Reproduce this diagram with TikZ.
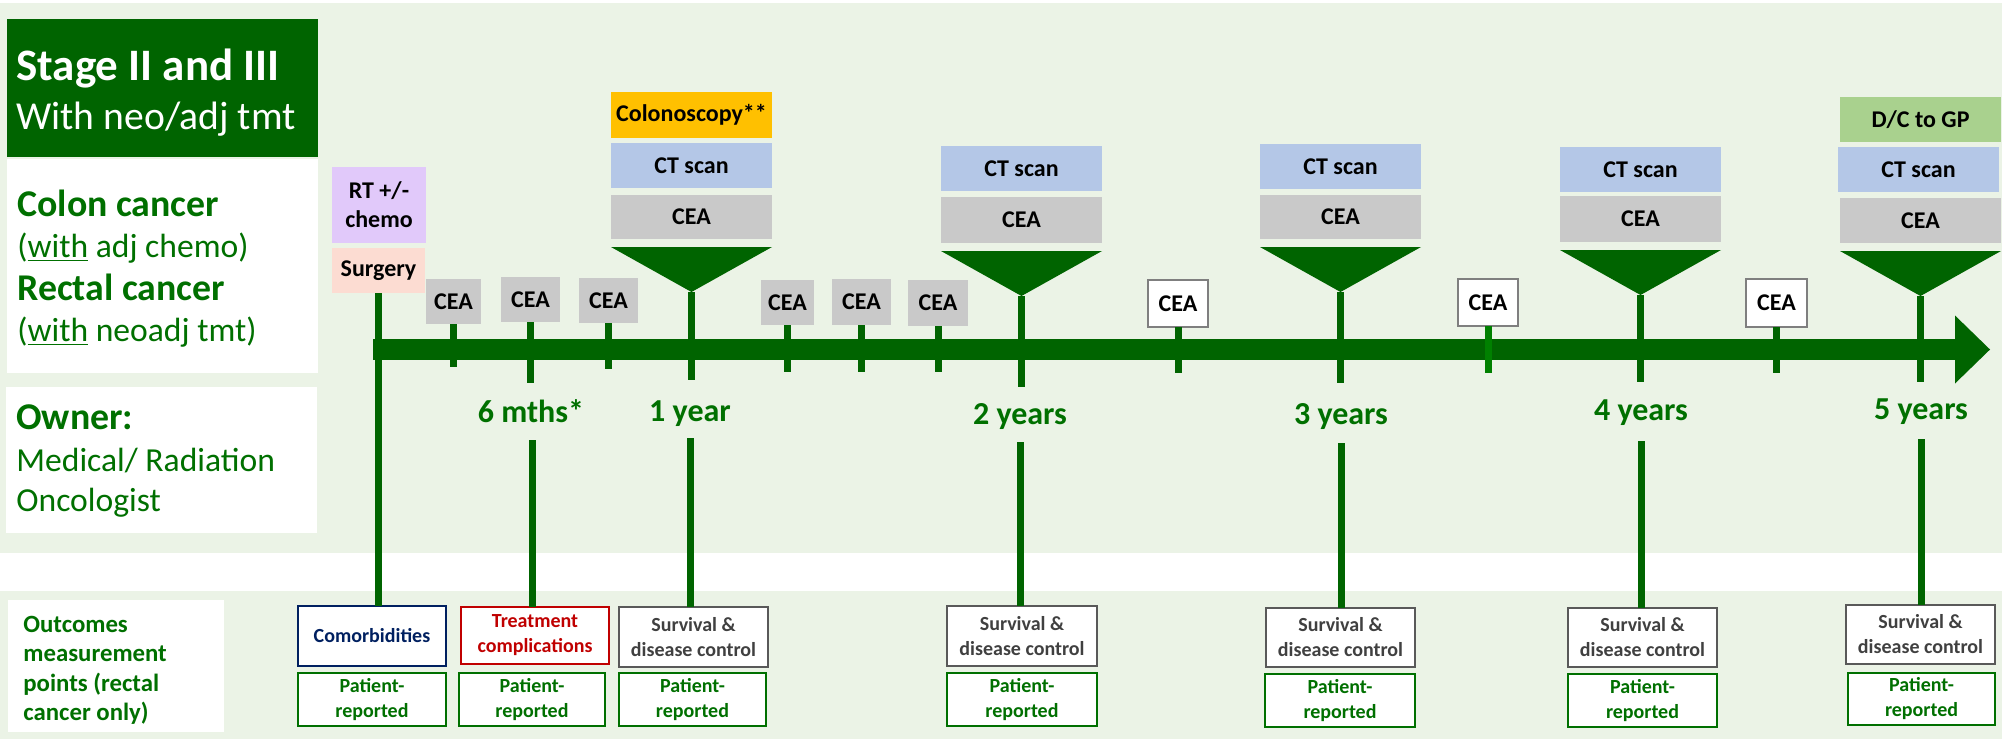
\documentclass[tikz,border=0pt]{standalone}
\usepackage{fontspec}
\setmainfont{Carlito}
\usetikzlibrary{arrows.meta}
\definecolor{bg}{HTML}{EBF3E6}
\definecolor{dkg}{HTML}{006400}
\definecolor{tg}{HTML}{007000}
\definecolor{lav}{HTML}{E1C9FA}
\definecolor{salmon}{HTML}{FCDCD2}
\definecolor{colo}{HTML}{FFC000}
\definecolor{ctb}{HTML}{B4C7E7}
\definecolor{ceag}{HTML}{C9C9C9}
\definecolor{dcg}{HTML}{A9D18E}
\definecolor{navy}{HTML}{002060}
\definecolor{dred}{HTML}{C00000}
\definecolor{sgray}{HTML}{595959}
\definecolor{stext}{HTML}{404040}
\definecolor{ogray}{HTML}{7F7F7F}
\newcommand\fsz[2]{\fontsize{#1}{#2}\selectfont}
\newcommand\mkbox[7]{\node[#6, minimum width={((#4)-(#2))*0.5pt}, minimum height={((#5)-(#3))*0.5pt}] (#1) at ({((#2)+(#4))/2},{((#3)+(#5))/2}) {#7};}
\tikzset{
  base/.style={inner sep=0pt, outer sep=0pt, align=center},
  fillbox/.style={base, fill=#1, font=\fsz{12}{14.5}\bfseries},
  obox/.style={base, fill=white, draw=ogray, line width=1pt, font=\fsz{12}{14.5}\bfseries},
  botbox/.style={base, fill=white, draw=#1, text=#1, line width=1pt, font=\fsz{10}{12.5}\bfseries},
  survbox/.style={base, fill=white, draw=sgray, text=stext, line width=1pt, font=\fsz{10}{12.5}\bfseries},
  tick/.style={draw=dkg, line width=3.5pt},
  yearlab/.style={text=tg, font=\fsz{16}{19}\bfseries, anchor=base, inner sep=0pt},
  lefttxt/.style={anchor=base west, inner sep=0pt, text=tg},
  headtxt/.style={lefttxt, font=\fsz{18.9}{22}\bfseries},
  subtxt/.style={lefttxt, font=\fsz{16.8}{20}}
}
\begin{document}
\begin{tikzpicture}[x=0.5pt,y=-0.5pt]
\useasboundingbox (0,0) rectangle (2011,739);
% backgrounds
\fill[bg] (0,3) rectangle (2002,553);
\fill[bg] (0,591) rectangle (2002,739);
% left panel
\mkbox{title}{7}{19}{318}{157}{base, fill=dkg}{}
\mkbox{wb1}{7}{159}{318}{373}{base, fill=white}{}
\mkbox{wb2}{6}{387}{317}{533}{base, fill=white}{}
\mkbox{wb3}{8}{600}{224}{732}{base, fill=white}{}
\node[lefttxt, text=white, font=\fsz{22.5}{27}\bfseries] (stg) at (16,80) {Stage II and III};
\node[lefttxt, text=white, font=\fsz{19.8}{23}] (neo) at (16,129) {With neo/adj tmt};
\node[headtxt] (colon) at (17,216) {Colon cancer};
\node[subtxt] (colsub) at (17,257) {(\underline{with} adj chemo)};
\node[headtxt] (rectal) at (17,300) {Rectal cancer};
\node[subtxt] (recsub) at (17,341) {(\underline{with} neoadj tmt)};
\node[headtxt] (owner) at (16,429) {Owner:};
\node[subtxt] (med) at (16,471) {Medical/ Radiation};
\node[subtxt] (onc) at (16,511) {Oncologist};
\node[lefttxt, font=\fsz{12.4}{15}\bfseries] (oc1) at (23,632) {Outcomes};
\node[lefttxt, font=\fsz{12.4}{15}\bfseries] (oc2) at (23,661) {measurement};
\node[lefttxt, font=\fsz{12.4}{15}\bfseries] (oc3) at (23,691) {points (rectal};
\node[lefttxt, font=\fsz{12.4}{15}\bfseries] (oc4) at (23,720) {cancer only)};
% treatment boxes
\mkbox{rt}{332}{167}{426}{243}{fillbox=lav}{RT +/-\\chemo}
\mkbox{surg}{332}{248}{425}{293}{fillbox=salmon}{Surgery}
% bottom boxes
\mkbox{comorb}{298}{606}{446}{666}{botbox=navy}{Comorbidities}
\mkbox{pr0}{298}{673}{446}{726}{botbox=tg}{Patient-\\reported}
\mkbox{treat}{461}{607}{609}{664}{botbox=dred}{Treatment\\complications}
\mkbox{pr6}{459}{673}{605}{726}{botbox=tg}{Patient-\\reported}
\mkbox{s1}{619}{607}{768}{667}{survbox}{Survival \&\\disease control}
\mkbox{pr1}{619}{673}{766}{726}{botbox=tg}{Patient-\\reported}
\mkbox{s2}{947}{606}{1097}{666}{survbox}{Survival \&\\disease control}
\mkbox{pr2}{947}{673}{1097}{726}{botbox=tg}{Patient-\\reported}
\mkbox{s3}{1266}{608}{1415}{667}{survbox}{Survival \&\\disease control}
\mkbox{pr3}{1265}{674}{1415}{727}{botbox=tg}{Patient-\\reported}
\mkbox{s4}{1568}{608}{1717}{667}{survbox}{Survival \&\\disease control}
\mkbox{pr4}{1568}{674}{1717}{727}{botbox=tg}{Patient-\\reported}
\mkbox{s5}{1846}{605}{1995}{664}{survbox}{Survival \&\\disease control}
\mkbox{pr5}{1848}{673}{1995}{725}{botbox=tg}{Patient-\\reported}
% surgery line
\draw[tick, line width=3.8pt] (surg.south) -- (surg.south |- comorb.north);
% main arrow
\coordinate (tl0) at (373,349.5);
\coordinate (tl1) at (1990,349.5);
\draw[dkg, line width=10.5pt] (tl0) -- ([xshift=-17.5pt]tl1);
\fill[dkg] (tl1) -- ++(-35,-34) -- ++(0,68) -- cycle;
% small CEA boxes and ticks
\mkbox{c1}{426}{279}{481}{324}{fillbox=ceag}{CEA}
\mkbox{c2}{501}{277}{560}{322}{fillbox=ceag}{CEA}
\mkbox{c3}{579}{278}{638}{323}{fillbox=ceag}{CEA}
\mkbox{c4}{761}{280}{814}{325}{fillbox=ceag}{CEA}
\mkbox{c5}{832}{279}{891}{325}{fillbox=ceag}{CEA}
\mkbox{c6}{908}{280}{968}{326}{fillbox=ceag}{CEA}
\mkbox{o1}{1148}{280}{1208}{327}{obox}{CEA}
\mkbox{o2}{1458}{279}{1518}{326}{obox}{CEA}
\mkbox{o3}{1746}{279}{1807}{327}{obox}{CEA}
\draw[tick] (c1.south) -- ++(0,43);
\draw[tick] (c2.south) -- ++(0,61);
\draw[tick] (c3.south) -- ++(0,46);
\draw[tick] (c4.south) -- ++(0,47);
\draw[tick] (c5.south) -- ++(0,47);
\draw[tick] (c6.south) -- ++(0,46);
\draw[tick] (o1.south) -- ++(0,46);
\draw[tick, draw=green!50!black] (o2.south) -- ++(0,47);
\draw[tick] (o3.south) -- ++(0,46);
% year 1
\mkbox{y1a}{611}{92}{772}{138}{fillbox=colo}{Colonoscopy**}
\mkbox{y1b}{611}{143}{772}{188}{fillbox=ctb}{CT scan}
\mkbox{y1c}{611}{195}{772}{239}{fillbox=ceag}{CEA}
% year 2
\mkbox{y2b}{941}{146}{1102}{191}{fillbox=ctb}{CT scan}
\mkbox{y2c}{941}{197}{1102}{243}{fillbox=ceag}{CEA}
% year 3
\mkbox{y3b}{1260}{144}{1421}{189}{fillbox=ctb}{CT scan}
\mkbox{y3c}{1260}{195}{1421}{239}{fillbox=ceag}{CEA}
% year 4
\mkbox{y4b}{1560}{147}{1721}{192}{fillbox=ctb}{CT scan}
\mkbox{y4c}{1560}{196}{1721}{242}{fillbox=ceag}{CEA}
% year 5
\mkbox{y5a}{1840}{97}{2001}{142}{fillbox=dcg}{D/C to GP}
\mkbox{y5b}{1838}{147}{1999}{192}{fillbox=ctb}{CT scan}
\mkbox{y5c}{1840}{198}{2001}{243}{fillbox=ceag}{CEA}
% funnels and stems
\foreach \c/\s in {y1c/88, y2c/91, y3c/91, y4c/87, y5c/86}{
  \fill[dkg] ([yshift=-4pt]\c.south west) -- ([yshift=-4pt]\c.south east) -- ([yshift=-26.5pt]\c.south) coordinate (\c t) -- cycle;
  \draw[tick] (\c t) -- ++(0,\s);
}
% labels
\node[yearlab] (l6) at (531,422) {6 mths*};
\node[yearlab] (l1) at (690,421) {1 year};
\node[yearlab] (l2) at (1020,424) {2 years};
\node[yearlab] (l3) at (1341,424) {3 years};
\node[yearlab] (l4) at (1641,420) {4 years};
\node[yearlab] (l5) at (1921,419) {5 years};
\coordinate (k6) at (532,440);
\coordinate (k1) at (690,438);
\coordinate (k2) at (1020,442);
\coordinate (k3) at (1341,443);
\coordinate (k4) at (1641,441);
\coordinate (k5) at (1921,439);
\draw[tick] (k6) -- (k6 |- treat.north);
\draw[tick] (k1) -- (k1 |- s1.north);
\draw[tick] (k2) -- (k2 |- s2.north);
\draw[tick] (k3) -- (k3 |- s3.north);
\draw[tick] (k4) -- (k4 |- s4.north);
\draw[tick] (k5) -- (k5 |- s5.north);
\end{tikzpicture}
\end{document}
